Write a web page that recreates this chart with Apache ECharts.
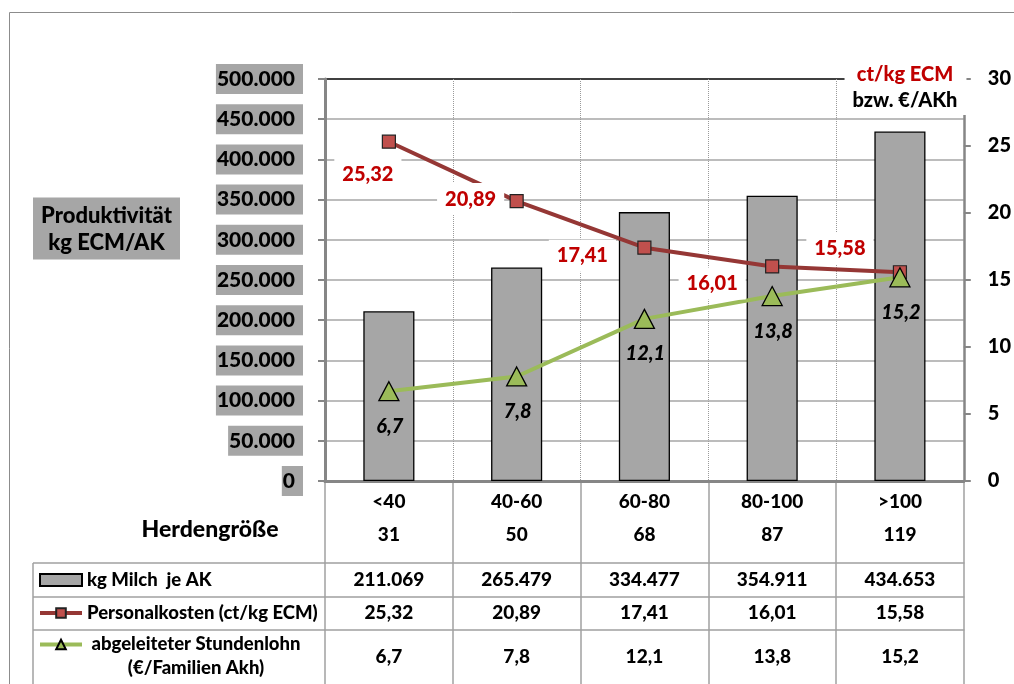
<!DOCTYPE html>
<html>
<head>
<meta charset="utf-8">
<script src="https://cdn.jsdelivr.net/npm/echarts@6/dist/echarts.min.js"></script>
<style>
    html, body { margin: 0; padding: 0; background: #fff; }
    #chart { width: 1014px; height: 684px; }
</style>
</head>
<body>
<div id="chart"></div>
<script>
    // Herdengröße classes and table rows
    var sizeClasses = ['<40', '40-60', '60-80', '80-100', '>100'];
    var herdSize = [31, 50, 68, 87, 119];
    var milkPerAK = [211069, 265479, 334477, 354911, 434653];
    var staffCost = [25.32, 20.89, 17.41, 16.01, 15.58];
    var hourlyWage = [6.7, 7.8, 12.1, 13.8, 15.2];

    var milkName = 'kg Milch  je AK';
    var costName = 'Personalkosten (ct/kg ECM)';
    var wageName = 'abgeleiteter Stundenlohn\n(€/Familien Akh)';

    // placement of the red data labels (px, relative to the point)
    var costLabelOffset = [[-21, 33], [-46, -2], [-62, 8], [-60, 17], [-60, -24]];

    var FONT = 'Lato';
    var BOLD = 900;
    var GRID_GRAY = '#a6a6a6';
    var AXIS_GRAY = '#868686';
    var TABLE_GRAY = '#a0a0a0';

    function deNum(v, digits){
        var s = Number(v).toFixed(digits || 0);
        var parts = s.split('.');
        var intPart = parts[0].replace(/\B(?=(\d{3})+(?!\d))/g, '.');
        return parts.length > 1 ? intPart + ',' + parts[1] : intPart;
    }

    function tableAxis(data, offset, margin, showLine){
        return {
            type: 'category',
            gridIndex: 0,
            position: 'bottom',
            offset: offset,
            data: data,
            axisLine: { show: showLine, lineStyle: { color: TABLE_GRAY, width: 1.5 } },
            axisTick: { show: false },
            splitLine: { show: false },
            axisLabel: {
                margin: margin, fontSize: 19, fontWeight: BOLD, color: '#000',
                lineHeight: 22, fontFamily: FONT, interval: 0
            }
        };
    }

    // top gridline is black, the rest gray
    var splitColors = [];
    for (var i = 0; i < 10; i++) splitColors.push(GRID_GRAY);
    splitColors.push('#000');

    var costData = staffCost.map(function(v, idx){
        return { value: v, label: { offset: costLabelOffset[idx] } };
    });

    var option = {
        animation: false,
        textStyle: { fontFamily: FONT },
        title: [
            {
                text: '{p|Produktivität}\n{p|kg ECM/AK}',
                left: 33, top: 195,
                backgroundColor: GRID_GRAY,
                padding: [7, 5, 6, 5],
                textStyle: {
                    rich: { p: { width: 137, align: 'center', fontSize: 22, fontWeight: BOLD,
                        lineHeight: 27, color: '#000', fontFamily: FONT } }
                }
            },
            {
                text: '{h|Herdengröße}',
                left: 110, top: 517, padding: 0,
                textStyle: {
                    rich: { h: { width: 200, align: 'center', fontSize: 23, fontWeight: BOLD,
                        lineHeight: 26, color: '#000', fontFamily: FONT } }
                }
            },
            {
                text: '{a|ct/kg ECM}\n{b|bzw. €/AKh}',
                left: 845, top: 59,
                backgroundColor: '#fff',
                padding: [3, 9, 4, 8],
                textStyle: {
                    rich: {
                        a: { width: 104, align: 'center', fontSize: 20, fontWeight: BOLD,
                            lineHeight: 26, color: '#c00000', fontFamily: FONT },
                        b: { width: 104, align: 'center', fontSize: 20, fontWeight: BOLD,
                            lineHeight: 26, color: '#000', fontFamily: FONT }
                    }
                }
            }
        ],
        legend: [
            {
                left: 38, top: 568, padding: 0,
                orient: 'vertical',
                itemWidth: 42, itemHeight: 12, itemGap: 9,
                selectedMode: false,
                lineStyle: { width: 4 },
                data: [{ name: milkName, icon: 'rect' }, { name: costName }],
                textStyle: { fontSize: 18.5, fontWeight: BOLD, color: '#000', lineHeight: 24, fontFamily: FONT }
            },
            {
                left: 38, top: 611, padding: 0,
                orient: 'vertical',
                itemWidth: 42, itemHeight: 12,
                selectedMode: false,
                lineStyle: { width: 4 },
                data: [{ name: wageName }],
                formatter: function(name){
                    var lines = name.split('\n');
                    return '{c| }\n{c|' + lines[0] + '}\n{c|' + lines[1] + '}';
                },
                textStyle: {
                    rich: { c: { width: 218, align: 'center', fontSize: 18.5, fontWeight: BOLD,
                        color: '#000', lineHeight: 24, fontFamily: FONT } }
                }
            }
        ],
        grid: [
            { left: 325, right: 50, top: 79, bottom: 203 },
            { left: 325, right: 50, top: 481, bottom: 0 }
        ],
        xAxis: [
            {
                type: 'category',
                gridIndex: 0,
                position: 'bottom',
                data: sizeClasses,
                axisLine: { lineStyle: { color: AXIS_GRAY, width: 3 } },
                axisTick: { show: false },
                axisLabel: {
                    margin: 10, fontSize: 19, fontWeight: BOLD, color: '#000',
                    lineHeight: 22, fontFamily: FONT, interval: 0
                },
                splitLine: { show: true, lineStyle: { color: '#9a9a9a', type: 'dotted', width: 1 } }
            },
            tableAxis(herdSize, 0, 43, false),
            tableAxis(milkPerAK.map(function(v){ return deNum(v, 0); }), 82, 6, true),
            tableAxis(staffCost.map(function(v){ return deNum(v, 2); }), 116, 5, true),
            tableAxis(hourlyWage.map(function(v){ return deNum(v, 1); }), 149, 16, true),
            {
                type: 'category',
                gridIndex: 1,
                data: sizeClasses,
                axisLine: { show: false },
                axisTick: { show: false },
                axisLabel: { show: false },
                splitLine: { show: true, lineStyle: { color: TABLE_GRAY, width: 1.5 } }
            }
        ],
        yAxis: [
            {
                type: 'value',
                gridIndex: 0,
                min: 0, max: 500000, interval: 50000,
                axisLine: { show: true, lineStyle: { color: AXIS_GRAY, width: 3 } },
                axisTick: { show: true, length: 7, lineStyle: { color: AXIS_GRAY, width: 2 } },
                splitLine: { show: true, lineStyle: { color: splitColors, width: 1.5 } },
                axisLabel: {
                    formatter: function(v){ return deNum(v, 0); },
                    margin: 22, fontSize: 21, fontWeight: BOLD, color: '#000',
                    backgroundColor: GRID_GRAY, padding: [3, 8, 3, 1], lineHeight: 24,
                    fontFamily: FONT
                }
            },
            {
                type: 'value',
                gridIndex: 0,
                position: 'right',
                min: 0, max: 30, interval: 5,
                axisLine: { show: true, lineStyle: { color: AXIS_GRAY, width: 2.5 } },
                axisTick: { show: true, length: 7, lineStyle: { color: AXIS_GRAY, width: 2 } },
                splitLine: { show: false },
                axisLabel: { margin: 24, fontSize: 20, fontWeight: BOLD, color: '#000', fontFamily: FONT }
            },
            { type: 'value', gridIndex: 1, show: false }
        ],
        series: [
            {
                name: milkName,
                type: 'bar',
                xAxisIndex: 0, yAxisIndex: 0,
                barWidth: '40%',
                data: milkPerAK,
                itemStyle: { color: '#a6a6a6', borderColor: '#000', borderWidth: 1.3 }
            },
            {
                name: costName,
                type: 'line',
                xAxisIndex: 0, yAxisIndex: 1,
                data: costData,
                symbol: 'rect', symbolSize: 13,
                lineStyle: { color: '#953735', width: 4 },
                itemStyle: { color: '#c0504d', borderColor: '#222', borderWidth: 1.2 },
                label: {
                    show: true,
                    position: 'inside',
                    formatter: function(p){ return deNum(p.value, 2); },
                    color: '#c00000', fontSize: 20, fontWeight: BOLD, fontFamily: FONT,
                    backgroundColor: '#fff', padding: [6, 8]
                },
                z: 3
            },
            {
                name: wageName,
                type: 'line',
                xAxisIndex: 0, yAxisIndex: 1,
                data: hourlyWage,
                symbol: 'triangle', symbolSize: [20, 19],
                lineStyle: { color: '#9bbb59', width: 4 },
                itemStyle: { color: '#9bbb59', borderColor: '#000', borderWidth: 1.3 },
                label: {
                    show: true,
                    position: 'inside',
                    offset: [1, 35],
                    formatter: function(p){ return deNum(p.value, 1); },
                    color: '#000', fontSize: 20, fontWeight: BOLD, fontStyle: 'italic', fontFamily: FONT
                },
                z: 3
            }
        ],
        graphic: [
            // outer frame
            { type: 'polyline', shape: { points: [[9.5, 684], [9.5, 12.5], [1014, 12.5]] },
              style: { stroke: '#8c8c8c', lineWidth: 1, fill: null }, silent: true },
            // legend column of the data table
            { type: 'line', shape: { x1: 33, y1: 563, x2: 325, y2: 563 }, style: { stroke: TABLE_GRAY, lineWidth: 1.5 }, silent: true },
            { type: 'line', shape: { x1: 33, y1: 597, x2: 325, y2: 597 }, style: { stroke: TABLE_GRAY, lineWidth: 1.5 }, silent: true },
            { type: 'line', shape: { x1: 33, y1: 630, x2: 325, y2: 630 }, style: { stroke: TABLE_GRAY, lineWidth: 1.5 }, silent: true },
            { type: 'line', shape: { x1: 33, y1: 563, x2: 33, y2: 684 }, style: { stroke: TABLE_GRAY, lineWidth: 1.5 }, silent: true }
        ]
    };

    var chart = echarts.init(document.getElementById('chart'));
    chart.setOption(option);
</script>
</body>
</html>
